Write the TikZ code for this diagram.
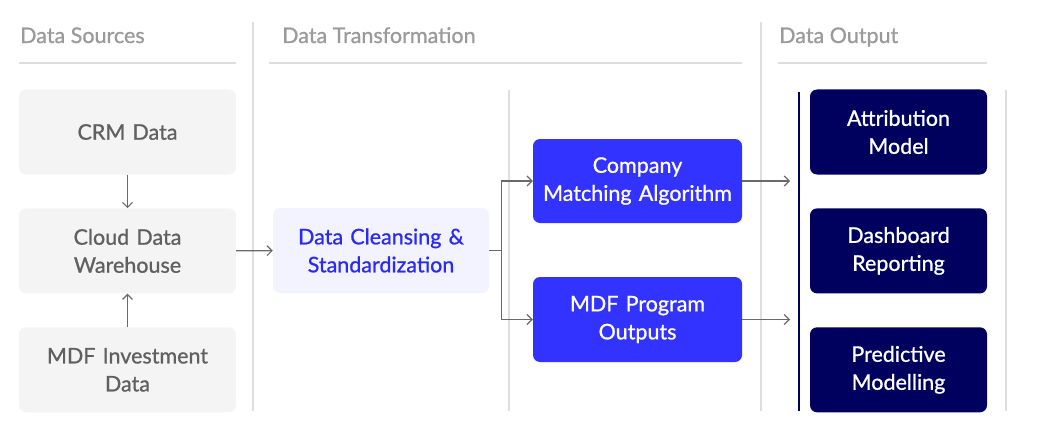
\documentclass[tikz,border=0pt]{standalone}
\usepackage{fontspec}
\setmainfont{Lato}[FakeBold=0.9]
\usepackage{tikz}
\usetikzlibrary{arrows.meta,positioning}

\definecolor{srcfill}{HTML}{F4F4F4}
\definecolor{srctext}{HTML}{606060}
\definecolor{headtext}{HTML}{9A9A9A}
\definecolor{rulegray}{HTML}{DEDEDE}
\definecolor{cleanfill}{HTML}{F3F3FF}
\definecolor{cleantext}{HTML}{2A2AF2}
\definecolor{algofill}{HTML}{3333FF}
\definecolor{navy}{HTML}{00005F}
\definecolor{arrowgray}{HTML}{6A6A6A}

\begin{document}
\begin{tikzpicture}[
    x=1pt, y=-1pt,
    font=\fontsize{21.5}{28}\selectfont,
    node distance=33.5pt and 37pt,
    header/.style={text=headtext, inner sep=0pt, anchor=base west},
    srcbox/.style={rectangle, fill=srcfill, text=srctext, rounded corners=7pt, minimum width=217pt, minimum height=85pt, text width=210pt, align=center, inner sep=0pt},
    cleanbox/.style={srcbox, fill=cleanfill, text=cleantext, minimum width=216pt},
    algobox/.style={srcbox, fill=algofill, text=white, minimum width=209pt, text width=205pt},
    outbox/.style={srcbox, fill=navy, text=white, minimum width=177pt, text width=172pt},
    sepline/.style={draw=rulegray, line width=1.2pt},
    arrow/.style={-{Straight Barb[length=5pt, width=10pt]}, draw=arrowgray, line width=1.2pt}
]
    \useasboundingbox (0,0) rectangle (1051,433);

    % column headers
    \node[header] (hsrc) at (20,43) {Data Sources};
    \node[header] (htrans) at (282,43) {Data Transformation};
    \node[header] (hout) at (779,43) {Data Output};

    \draw[sepline] (19,63) -- (236,63);
    \draw[sepline] (269,63) -- (742,63);
    \draw[sepline] (778,63) -- (987,63);
    \draw[sepline] (253,22) -- (253,411);
    \draw[sepline] (509,90) -- (509,411);
    \draw[sepline] (761,22) -- (761,411);
    \draw[sepline] (1006,90) -- (1006,411);
    \draw[navy, line width=2pt] (799,92) -- (799,411);

    % sources
    \node (crm) [srcbox] at (127.5,132) {CRM Data};
    \node (cloud) [srcbox, below=of crm] {Cloud Data\\Warehouse};
    \node (inv) [srcbox, below=of cloud] {MDF Investment\\Data};

    % transformation
    \node (clean) [cleanbox] at (381,250.5) {Data Cleansing \&\\Standardization};
    \node (match) [algobox, minimum height=84pt] at (637.5,181) {Company\\Matching Algorithm};
    \node (prog) [algobox] at (637.5,319.5) {MDF Program\\Outputs};

    % outputs
    \node (attr) [outbox] at (898.5,132) {Attribution\\Model};
    \node (dash) [outbox, below=of attr] {Dashboard\\Reporting};
    \node (pred) [outbox, below=of dash] {Predictive\\Modelling};

    \coordinate (out1) at (790,181);
    \coordinate (out2) at (790,319.5);

    \draw [arrow] (crm) -- (cloud);
    \draw [arrow] (inv) -- (cloud);
    \draw [arrow] (cloud) -- (clean);
    \draw [arrow] (clean.east) -- ++(12,0) |- (match.west);
    \draw [arrow] (clean.east) -- ++(12,0) |- (prog.west);
    \draw [arrow] (match.east) -- (out1);
    \draw [arrow] (prog.east) -- (out2);
\end{tikzpicture}
\end{document}
